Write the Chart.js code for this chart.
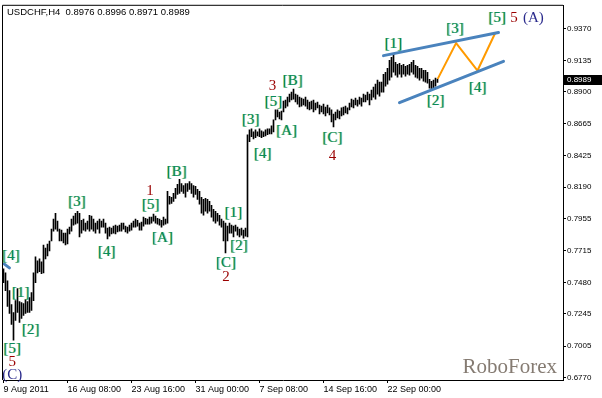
<!DOCTYPE html>
<html><head><meta charset="utf-8">
<script src="https://cdn.jsdelivr.net/npm/chart.js@4/dist/chart.umd.min.js"></script>
<style>html,body{margin:0;padding:0;background:#fff;overflow:hidden}canvas{display:block}</style>
</head><body>
<canvas id="c" width="602" height="398"></canvas>
<script>
const symbolTitle = "USDCHF,H4  0.8976 0.8996 0.8971 0.8989";
const lastPrice = 0.8989;

// H4 bars: high / low
const highs = [
0.7582,0.7552,0.7493,0.7419,0.7315,0.7256,0.7345,0.7434,0.7338,0.7330,
0.7323,0.7352,0.7338,0.7367,0.7404,0.7552,0.7671,0.7641,0.7656,0.7634,
0.7759,0.7737,0.7767,0.7789,0.7878,0.7952,0.7996,0.7937,0.7878,0.7870,
0.7848,0.7848,0.7878,0.7893,0.7952,0.7974,0.7996,0.8011,0.7996,0.7944,
0.7952,0.7922,0.7937,0.7981,0.7974,0.7952,0.7922,0.7937,0.7952,0.7937,
0.7952,0.7922,0.7885,0.7893,0.7885,0.7900,0.7907,0.7900,0.7907,0.7922,
0.7922,0.7900,0.7893,0.7907,0.7922,0.7937,0.7952,0.7944,0.7922,0.7930,
0.7967,0.7959,0.7952,0.7967,0.7967,0.7989,0.7974,0.7959,0.7952,0.7944,
0.7967,0.7952,0.8159,0.8122,0.8115,0.8144,0.8181,0.8211,0.8248,0.8218,
0.8203,0.8218,0.8218,0.8233,0.8218,0.8203,0.8196,0.8174,0.8159,0.8115,
0.8100,0.8107,0.8100,0.8085,0.8055,0.8026,0.8011,0.7996,0.7981,0.7952,
0.7937,0.7922,0.7900,0.7922,0.7907,0.7900,0.7907,0.7893,0.7878,0.7885,
0.7870,0.7885,0.8581,0.8618,0.8625,0.8603,0.8618,0.8603,0.8625,0.8610,
0.8603,0.8618,0.8625,0.8625,0.8647,0.8692,0.8766,0.8766,0.8751,0.8758,
0.8832,0.8840,0.8862,0.8884,0.8899,0.8921,0.8884,0.8877,0.8862,0.8855,
0.8847,0.8862,0.8840,0.8825,0.8832,0.8840,0.8818,0.8825,0.8803,0.8795,
0.8810,0.8788,0.8803,0.8781,0.8766,0.8736,0.8751,0.8766,0.8758,0.8781,
0.8788,0.8795,0.8781,0.8818,0.8847,0.8840,0.8855,0.8840,0.8862,0.8855,
0.8884,0.8877,0.8899,0.8884,0.8914,0.8936,0.8958,0.8988,0.8973,0.8973,
0.9032,0.9047,0.9077,0.9136,0.9158,0.9180,0.9121,0.9106,0.9114,0.9099,
0.9106,0.9091,0.9099,0.9106,0.9121,0.9136,0.9099,0.9091,0.9077,0.9077,
0.9062,0.9062,0.9047,0.8995,0.8980,0.8988,0.9003,0.8996
];
const lows = [
0.7478,0.7419,0.7301,0.7249,0.7167,0.7049,0.7197,0.7256,0.7182,0.7212,
0.7234,0.7249,0.7256,0.7256,0.7271,0.7345,0.7478,0.7552,0.7560,0.7545,
0.7552,0.7656,0.7678,0.7715,0.7789,0.7863,0.7878,0.7863,0.7789,0.7789,
0.7774,0.7759,0.7767,0.7841,0.7863,0.7907,0.7915,0.7922,0.7819,0.7848,
0.7870,0.7863,0.7878,0.7863,0.7878,0.7863,0.7848,0.7878,0.7848,0.7893,
0.7893,0.7848,0.7804,0.7826,0.7841,0.7848,0.7841,0.7856,0.7863,0.7863,
0.7878,0.7856,0.7848,0.7863,0.7870,0.7893,0.7893,0.7900,0.7870,0.7870,
0.7900,0.7915,0.7915,0.7915,0.7922,0.7937,0.7922,0.7915,0.7907,0.7893,
0.7907,0.7915,0.7922,0.8063,0.8070,0.8085,0.8107,0.8137,0.8144,0.8159,
0.8144,0.8115,0.8159,0.8174,0.8144,0.8115,0.8137,0.8100,0.8063,0.7996,
0.7981,0.8011,0.7996,0.8011,0.7967,0.7937,0.7922,0.7937,0.7907,0.7893,
0.7789,0.7700,0.7789,0.7848,0.7848,0.7819,0.7863,0.7833,0.7819,0.7833,
0.7811,0.7826,0.7819,0.8529,0.8566,0.8551,0.8559,0.8573,0.8566,0.8559,
0.8566,0.8573,0.8581,0.8588,0.8588,0.8603,0.8692,0.8714,0.8699,0.8692,
0.8751,0.8781,0.8795,0.8825,0.8840,0.8847,0.8825,0.8810,0.8788,0.8795,
0.8803,0.8795,0.8773,0.8766,0.8773,0.8751,0.8766,0.8781,0.8736,0.8751,
0.8736,0.8721,0.8744,0.8729,0.8677,0.8640,0.8692,0.8707,0.8699,0.8721,
0.8729,0.8744,0.8736,0.8766,0.8788,0.8781,0.8803,0.8795,0.8810,0.8795,
0.8825,0.8825,0.8840,0.8803,0.8840,0.8862,0.8847,0.8884,0.8869,0.8899,
0.8899,0.8943,0.8958,0.8988,0.9010,0.9047,0.9025,0.9010,0.9032,0.9010,
0.9032,0.9017,0.9032,0.9025,0.9047,0.9032,0.9010,0.9003,0.8988,0.9003,
0.8980,0.8973,0.8966,0.8929,0.8914,0.8929,0.8943,0.8971
];

const yTicks = [0.6770,0.7005,0.7245,0.7480,0.7715,0.7955,0.8190,0.8425,0.8665,0.8900,0.9135,0.9370];
const xTickBars = [0,32,64,96,128,160,192];
const xTickLabels = ["9 Aug 2011","16 Aug 08:00","23 Aug 16:00","31 Aug 00:00","7 Sep 08:00","14 Sep 16:00","22 Sep 00:00"];

// trend channel and forecast (bar index, price)
const upperLineX = [190, 247.5], upperLineY = [0.9171, 0.9343];
const lowerLineX = [198, 250],   lowerLineY = [0.8820, 0.9128];
const oldLineX = [0.3, 2.95],    oldLineY = [0.7619, 0.7589];
const forecastX = [217.3, 226.3, 237, 245.8];
const forecastY = [0.9003, 0.9264, 0.9060, 0.9338];

// wave labels
const waveText  = ["[4]","[1]","[2]","[5]","5","(C)","[3]","[4]","1","[5]","[A]","[B]","[1]","[2]","[C]","2","[3]","[4]","[5]","3","[B]","[A]","[C]","4","[1]","[2]","[3]","[4]","[5]","5","(A)"];
const waveBar   = [3.8,8.6,13.6,4.4,4.4,4.4,36.7,51.6,73.3,73.6,79.5,86.6,115,117.8,111.3,111.3,123.6,129.6,135,134.5,144.6,141.6,164.5,164.5,195,216.1,225.8,237.1,246.9,255.3,264.9];
const wavePrice = [0.7678,0.7404,0.7127,0.6980,0.6886,0.6791,0.8080,0.7703,0.8164,0.8060,0.7809,0.8302,0.8000,0.7752,0.7628,0.7517,0.8689,0.8435,0.8825,0.8941,0.8978,0.8610,0.8558,0.8423,0.9256,0.8832,0.9367,0.8928,0.9454,0.9454,0.9449];
const waveKind  = ["g","g","g","g","r","b","g","g","r","g","g","g","g","g","g","r","g","g","g","r","g","g","g","r","g","g","g","g","g","r","b"];

const overlay = {
  id: 'overlay',
  afterDraw(chart) {
    const {ctx, chartArea: a, scales: {x, y}} = chart;
    ctx.save();
    ctx.strokeStyle = '#000'; ctx.lineWidth = 1;
    ctx.beginPath();
    ctx.moveTo(a.left - 0.5, a.bottom); ctx.lineTo(a.left - 0.5, a.top - 0.5); ctx.lineTo(a.right, a.top - 0.5);
    ctx.stroke();
    // title
    ctx.fillStyle = '#000';
    ctx.font = '9.5px "Liberation Sans", Arial, sans-serif';
    ctx.textAlign = 'left'; ctx.textBaseline = 'middle';
    ctx.fillText(symbolTitle, 7, 12);
    // watermark
    ctx.font = '21px "Liberation Serif", "Times New Roman", serif';
    ctx.fillStyle = '#857b72';
    ctx.textAlign = 'right'; ctx.textBaseline = 'alphabetic';
    ctx.fillText('RoboForex', 557, 373);
    // wave labels
    ctx.font = '15px "Liberation Serif", "Times New Roman", serif';
    ctx.textAlign = 'center'; ctx.textBaseline = 'middle';
    for (let k = 0; k < waveText.length; k++) {
      const px = x.getPixelForValue(waveBar[k]);
      const py = y.getPixelForValue(wavePrice[k]);
      const kind = waveKind[k];
      if (kind === 'g') {
        ctx.fillStyle = 'rgba(190,175,0,0.55)';
        ctx.fillText(waveText[k], px - 0.7, py);
        ctx.fillStyle = 'rgba(0,170,190,0.45)';
        ctx.fillText(waveText[k], px + 0.8, py);
        ctx.fillStyle = '#0a8a5c';
        ctx.fillText(waveText[k], px, py);
      } else if (kind === 'r') {
        ctx.fillStyle = '#9a0000';
        ctx.fillText(waveText[k], px, py);
      } else {
        ctx.fillStyle = '#2a2a8c';
        ctx.fillText(waveText[k], px, py);
      }
    }
    // current price box
    const lp = y.getPixelForValue(lastPrice);
    ctx.fillStyle = '#000';
    ctx.fillRect(a.right, Math.round(lp) - 5, 39, 10);
    ctx.fillStyle = '#fff';
    ctx.font = '8px "Liberation Sans", Arial, sans-serif';
    ctx.textAlign = 'left'; ctx.textBaseline = 'middle';
    ctx.fillText(lastPrice.toFixed(4), a.right + 4, Math.round(lp));
    ctx.restore();
  }
};

function lineSet(xs, ys, color, width) {
  return {type: 'line', data: xs.map((v, i) => ({x: v, y: ys[i]})), borderColor: color, borderWidth: width,
          pointRadius: 0, fill: false, tension: 0, order: 1, borderCapStyle: 'round'};
}

new Chart(document.getElementById('c').getContext('2d'), {
  type: 'bar',
  data: {
    datasets: [
      {type: 'bar', data: highs.map((h, i) => ({x: i, y: [lows[i], h]})), backgroundColor: '#000',
       borderWidth: 0, barThickness: 1, order: 2},
      lineSet(upperLineX, upperLineY, '#4a83bd', 3),
      lineSet(lowerLineX, lowerLineY, '#4a83bd', 3),
      lineSet(oldLineX, oldLineY, '#4a83bd', 3),
      lineSet(forecastX, forecastY, '#ff9a00', 2)
    ]
  },
  options: {
    responsive: false, animation: false, devicePixelRatio: 1,
    layout: {padding: {left: 3, top: 3, right: 0, bottom: 0}},
    plugins: {legend: {display: false}, tooltip: {enabled: false}, title: {display: false}},
    scales: {
      x: {
        type: 'linear', min: -0.25, max: 279.75, offset: false,
        grid: {display: true, offset: false, drawOnChartArea: false, drawTicks: true, tickLength: 3, color: '#000'},
        border: {display: true, color: '#000'},
        ticks: {align: 'start', padding: 1, maxRotation: 0, autoSkip: false, color: '#000',
                font: {family: '"Liberation Sans", Arial, sans-serif', size: 9},
                callback: (v) => { const k = xTickBars.indexOf(v); return k >= 0 ? xTickLabels[k] : ''; }},
        afterBuildTicks: (s) => { s.ticks = xTickBars.map(v => ({value: v})); },
        afterFit: (s) => { s.height = 18; }
      },
      y: {
        type: 'linear', position: 'right', min: 0.6753, max: 0.95424,
        grid: {display: true, drawOnChartArea: false, drawTicks: true, tickLength: 3, color: '#000'},
        border: {display: true, color: '#000'},
        ticks: {padding: 1, autoSkip: false, color: '#000',
                font: {family: '"Liberation Sans", Arial, sans-serif', size: 8},
                callback: (v) => Number(v).toFixed(4)},
        afterBuildTicks: (s) => { s.ticks = yTicks.map(v => ({value: v})); },
        afterFit: (s) => { s.width = 39; }
      }
    }
  },
  plugins: [overlay]
});
</script>
</body></html>
